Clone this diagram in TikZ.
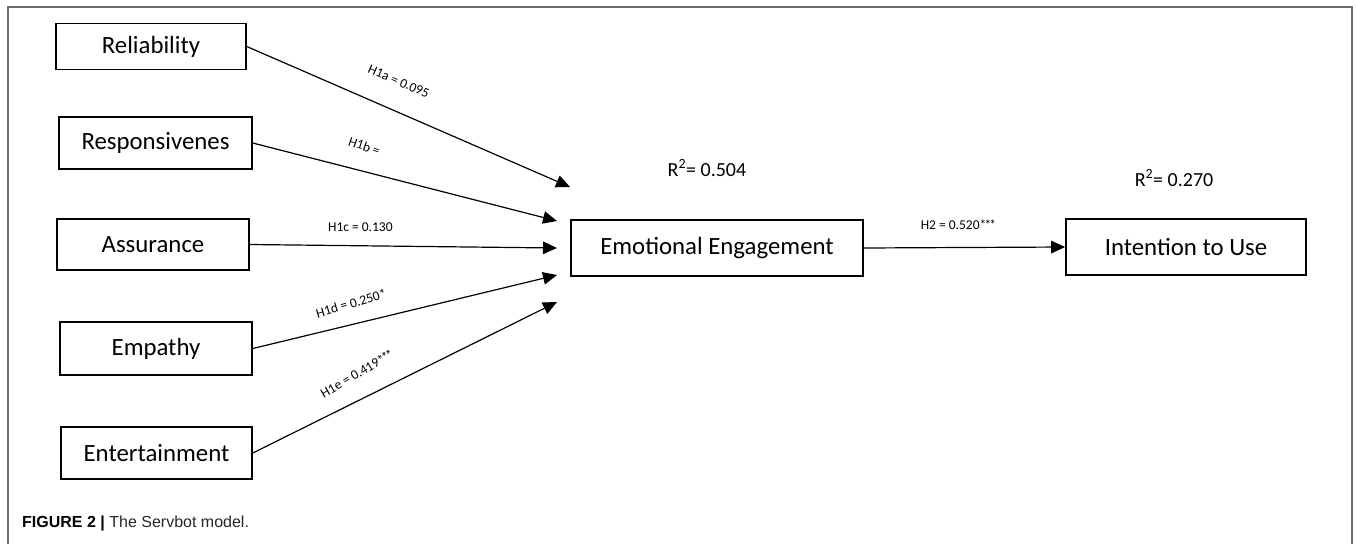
\documentclass[tikz,border=0pt]{standalone}
\usepackage{fontspec}
\setmainfont{Carlito}
\newfontfamily\capfont{Liberation Sans}
\usetikzlibrary{arrows.meta}
\newcommand{\stars}{*\kern-1.8pt*\kern-1.8pt*}

\begin{document}
\begin{tikzpicture}[x=1pt,y=-1pt,
	box/.style={draw,line width=1.6pt,inner sep=0pt,minimum width=192pt,minimum height=52pt,font=\fontsize{24.8}{30}\selectfont},
	hyp/.style={-{Triangle[length=14pt,width=12.5pt]},line width=1.2pt},
	coef/.style={font=\fontsize{13.5}{16}\selectfont,inner sep=0pt},
	rsq/.style={font=\fontsize{20}{24}\selectfont,inner sep=0pt}]
	\useasboundingbox (0,0) rectangle (1356,544);
	\draw[line width=1.5pt,black!58] (8,544) -- (8,7) -- (1352,7) -- (1352,544);

	\node[box,minimum width=190pt,minimum height=46pt]	(rel) at (151,46.5)	{Reliability};
	\node[box,minimum width=193pt]				(res) at (155.5,143)	{Responsivenes};
	\node[box,minimum height=51pt]				(ass) at (153,244.5)	{Assurance};
	\node[box,minimum height=53pt]				(emp) at (156,348.5)	{Empathy};
	\node[box,minimum width=191pt]				(ent) at (156.5,453)	{Entertainment};
	\node[box,minimum width=292pt,minimum height=56pt]	(eng) at (717,248)	{Emotional Engagement};
	\node[box,minimum width=240pt,minimum height=56pt]	(use) at (1186,247)	{Intention to Use};

	\coordinate (tA) at (570,187);
	\coordinate (tB) at (557,221);
	\coordinate (tC) at (557,248);
	\coordinate (tD) at (557,275);
	\coordinate (tE) at (557,302);

	\draw[hyp] (rel.east) -- node[coef,sloped,above=23.5pt,pos=0.435]		(hA) {H1a = 0.095}		(tA);
	\draw[hyp] (res.east) -- node[coef,sloped,above=19.5pt,pos=0.345,rotate=-4]	(hB) {H1b =}			(tB);
	\draw[hyp] (ass.east) -- node[coef,above=13.5pt,pos=0.36]			(hC) {H1c = 0.130}		(tC);
	\draw[hyp] (emp.east) -- node[coef,sloped,above=15.5pt,pos=0.34,rotate=3]	(hD) {H1d = 0.250*}		(tD);
	\draw[hyp] (ent.east) -- node[coef,sloped,above=19.5pt,pos=0.38,rotate=4]	(hE) {H1e = 0.419\stars}	(tE);
	\draw[hyp] (eng.east) -- node[coef,above=17.5pt,pos=0.47]			(hF) {H2 = 0.520\stars}		(use.west);

	\node[rsq] (rEng) at (707,168)	{R\textsuperscript{2}= 0.504};
	\node[rsq] (rUse) at (1174,178)	{R\textsuperscript{2}= 0.270};

	\node[anchor=west,inner sep=0pt,font=\capfont\fontsize{16}{19}\selectfont] (cap) at (22,523)
		{\textbf{FIGURE 2 |} \textcolor{black!85}{The Servbot model.}};
\end{tikzpicture}
\end{document}
